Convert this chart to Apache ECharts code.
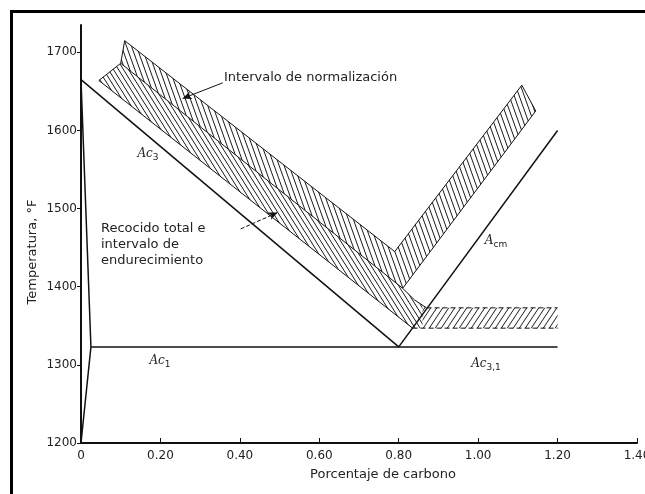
<!DOCTYPE html>
<html>
<head>
<meta charset="utf-8">
<script src="https://cdn.jsdelivr.net/npm/echarts@6/dist/echarts.min.js"></script>
<style>
  html, body { margin: 0; padding: 0; background: #fff; }
  #chart { width: 645px; height: 494px; }
</style>
</head>
<body>
<div id="chart"></div>
<script>
// axis ticks
const xTicks = [0, 0.2, 0.4, 0.6, 0.8, 1.0, 1.2, 1.4];
const yTicks = [1200, 1300, 1400, 1500, 1600, 1700];

// critical lines (% C, °F)
const ferriteLine = [[0, 1200], [0.025, 1323], [0, 1665]];
const ac3Line = [[0, 1665], [0.80, 1323]];
const acmLine = [[0.80, 1323], [1.20, 1600]];
const ac1Line = [[0.025, 1323], [1.20, 1323]];

// normalizing range (upper hatched band)
const normBand = [[0.11, 1715], [0.79, 1445], [1.11, 1658], [1.145, 1625], [0.81, 1398], [0.10, 1686], [0.11, 1715]];

// full annealing / hardening range (lower hatched band)
const annealLeft = [[0.045, 1664], [0.10, 1686], [0.81, 1398], [0.84, 1383], [0.86, 1376], [0.86, 1347], [0.835, 1347]];
const annealRight = [[0.86, 1376], [0.87, 1373], [1.20, 1373], [1.20, 1347], [0.86, 1347]];
const annealSolid = [[0.10, 1686], [0.045, 1664], [0.835, 1347]];
const annealTopCurve = [[0.81, 1398], [0.84, 1383], [0.87, 1373]];
const annealTopDash = [[0.87, 1373], [1.20, 1373]];
const annealBottomDash = [[0.835, 1347], [1.20, 1347]];

// arrows from the notes to the bands
const normArrow = [[0.357, 1661], [0.256, 1641]];
const annealArrow = [[0.402, 1474], [0.495, 1495]];

function hatch(w, h, dir) {
  const c = document.createElement('canvas');
  c.width = w; c.height = h;
  const ctx = c.getContext('2d');
  ctx.strokeStyle = '#1a1a1a';
  ctx.lineWidth = 1;
  ctx.beginPath();
  [-w, 0, w].forEach(function (o) {
    if (dir === '/') { ctx.moveTo(o, h); ctx.lineTo(o + w, 0); }
    else { ctx.moveTo(o, 0); ctx.lineTo(o + w, h); }
  });
  ctx.stroke();
  return { image: c, repeat: 'repeat' };
}

const fills = [
  { pts: normBand, fill: hatch(5, 14, '\\') },
  { pts: annealLeft, fill: hatch(5, 8, '\\') },
  { pts: annealRight, fill: hatch(6, 9, '/') }
];

const chart = echarts.init(document.getElementById('chart'));

function line(data, width, dashed) {
  return {
    type: 'line', data: data, symbol: 'none', silent: true, z: 5,
    lineStyle: { color: '#111', width: width, type: dashed ? [5, 3] : 'solid' }
  };
}

const txt = { fontFamily: 'DejaVu Sans', fontSize: 13, fill: '#222' };
function sub(x, y, main, s) {
  return {
    type: 'text', x: x, y: y,
    style: {
      text: '{a|' + main + '}{s|' + s + '}',
      align: 'center', verticalAlign: 'middle',
      rich: {
        a: { fontFamily: 'DejaVu Serif', fontStyle: 'italic', fontSize: 12, lineHeight: 14, verticalAlign: 'top', fill: '#222' },
        s: { fontFamily: 'DejaVu Sans', fontSize: 9, lineHeight: 9, padding: [7, 0, 0, 0], verticalAlign: 'bottom', fill: '#222' }
      }
    }
  };
}

chart.setOption({
  animation: false,
  backgroundColor: '#fff',
  grid: { left: 81, right: 8, top: 25, bottom: 51, outerBoundsMode: 'none', containLabel: false },
  xAxis: {
    type: 'value', min: 0, max: 1.4,
    axisLine: { lineStyle: { color: '#111', width: 2 } },
    axisTick: { inside: true, length: 5, customValues: xTicks, lineStyle: { color: '#111' } },
    axisLabel: {
      customValues: xTicks, margin: 7, color: '#222', fontFamily: 'DejaVu Sans', fontSize: 12,
      hideOverlap: false,
      formatter: function (v) { return v === 0 ? '0' : v.toFixed(2); }
    },
    splitLine: { show: false }
  },
  yAxis: {
    type: 'value', min: 1200, max: 1735,
    axisLine: { show: true, lineStyle: { color: '#111', width: 2 } },
    axisTick: { show: true, length: 4, customValues: yTicks, lineStyle: { color: '#111' } },
    axisLabel: {
      customValues: yTicks, margin: 4, color: '#222', fontFamily: 'DejaVu Sans', fontSize: 12,
      formatter: function (v) { return String(v); }
    },
    splitLine: { show: false }
  },
  graphic: [
    { type: 'rect', shape: { x: 10, y: 10, width: 640, height: 3 }, style: { fill: '#000' } },
    { type: 'rect', shape: { x: 10, y: 10, width: 3, height: 490 }, style: { fill: '#000' } },
    { type: 'text', x: 33, y: 252, rotation: Math.PI / 2,
      style: Object.assign({ text: 'Temperatura, °F', align: 'center', verticalAlign: 'middle' }, txt) },
    { type: 'text', x: 383, y: 475,
      style: Object.assign({ text: 'Porcentaje de carbono', align: 'center', verticalAlign: 'middle' }, txt) },
    { type: 'text', x: 224, y: 78,
      style: Object.assign({ text: 'Intervalo de normalización', align: 'left', verticalAlign: 'middle' }, txt) },
    { type: 'text', x: 101, y: 245,
      style: Object.assign({ text: 'Recocido total e\nintervalo de\nendurecimiento', align: 'left', verticalAlign: 'middle', lineHeight: 16 }, txt) },
    sub(148, 155, 'Ac', '3'),
    sub(496, 242, 'A', 'cm'),
    sub(160, 362, 'Ac', '1'),
    sub(486, 365, 'Ac', '3,1')
  ],
  series: [
    {
      type: 'custom', silent: true, z: 2,
      data: fills.map(function (f, i) { return [i]; }),
      renderItem: function (params, api) {
        const f = fills[params.dataIndex];
        return {
          type: 'polygon',
          shape: { points: f.pts.map(function (p) { return api.coord(p); }) },
          style: { fill: f.fill, stroke: null }
        };
      }
    },
    line(ferriteLine, 1.5),
    line(ac3Line, 1.5),
    line(acmLine, 1.5),
    line(ac1Line, 1.5),
    line(normBand, 1),
    line(annealSolid, 1),
    line(annealTopCurve, 1),
    line(annealTopDash, 1, true),
    line(annealBottomDash, 1, true),
    {
      type: 'line', data: [], silent: true,
      markLine: {
        silent: true, symbol: ['none', 'arrow'], symbolSize: [6, 9],
        label: { show: false },
        lineStyle: { color: '#111', width: 1, type: 'solid' },
        data: [
          [{ coord: normArrow[0] }, { coord: normArrow[1] }],
          [{ coord: annealArrow[0], lineStyle: { type: [4, 2] } }, { coord: annealArrow[1] }]
        ]
      }
    }
  ]
});
</script>
</body>
</html>
